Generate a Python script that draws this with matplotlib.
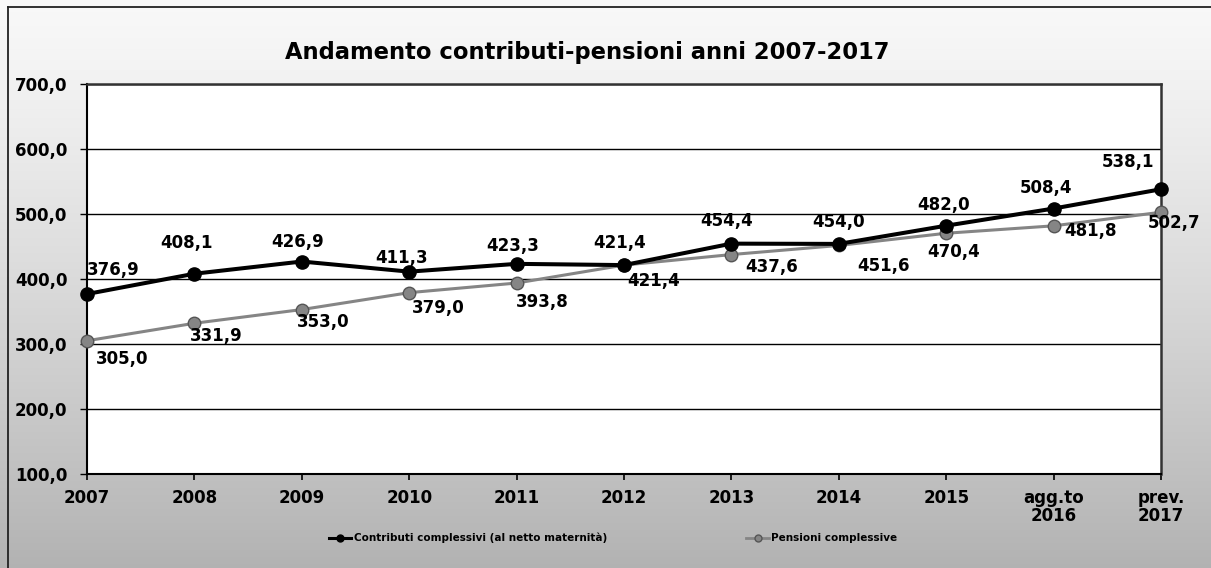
import numpy as np
import matplotlib
matplotlib.use("Agg")
import matplotlib.pyplot as plt
from matplotlib.lines import Line2D

# ---- data ----
categories = ["2007", "2008", "2009", "2010", "2011", "2012", "2013", "2014",
              "2015", "agg.to\n2016", "prev.\n2017"]
contributi = [376.9, 408.1, 426.9, 411.3, 423.3, 421.4, 454.4, 454.0, 482.0, 508.4, 538.1]
pensioni = [305.0, 331.9, 353.0, 379.0, 393.8, 421.4, 437.6, 451.6, 470.4, 481.8, 502.7]
yticks = [100, 200, 300, 400, 500, 600, 700]

series_names = ["Contributi complessivi (al netto maternità)", "Pensioni complessive"]
title = "Andamento contributi-pensioni anni 2007-2017"

# label offsets in pixels (dx, dy) relative to each point
contrib_offsets = [(26, 24), (-8, 31), (-4, 20), (-8, 14), (-4, 18), (-4, 22),
                   (-5, 23), (0, 22), (-3, 21), (-8, 21), (-33, 27)]
pens_offsets = [(35, -18), (22, -13), (21, -12), (29, -15), (26, -19), (30, -16),
                (40, -12), (45, -21), (7, -19), (37, -5), (13, -11)]

W, H = 1211, 568
fig = plt.figure(figsize=(W / 100, H / 100), dpi=100)

# vertical grey gradient for the chart area background
bg = fig.add_axes([0, 0, 1, 1])
grad = np.linspace(0, 1, 256).reshape(-1, 1)
top_c, bot_c = 0.975, 0.70
vals = top_c + (bot_c - top_c) * grad ** 1.2
bg.imshow(np.dstack([vals, vals, vals]), aspect="auto", extent=[0, 1, 0, 1],
          origin="upper")
bg.set_xlim(0, 1)
bg.set_ylim(0, 1)
bg.axis("off")
# outer chart frame (left and top edges)
bg.plot([8 / W, 8 / W], [0, 1 - 7 / H], color="#222222", lw=1.3)
bg.plot([8 / W, 1], [1 - 7 / H, 1 - 7 / H], color="#222222", lw=1.3)

# plot area
left, right = 87 / W, 1161 / W
bottom, top = 1 - 474 / H, 1 - 84 / H
ax = fig.add_axes([left, bottom, right - left, top - bottom])
ax.set_facecolor("white")

x = np.arange(len(categories))
ax.set_xlim(0, len(categories) - 1)
ax.set_ylim(100, 700)

ax.set_yticks(yticks)
ax.set_yticklabels([f"{v:.1f}".replace(".", ",") for v in yticks])
ax.set_xticks(x)
ax.set_xticklabels(categories, linespacing=0.95)
for lab in ax.get_xticklabels() + ax.get_yticklabels():
    lab.set_fontweight("bold")
    lab.set_fontsize(12)
ax.tick_params(axis="y", length=5, width=1, pad=9, direction="out")
ax.tick_params(axis="x", length=4, width=1.2, pad=7, direction="out")

ax.grid(axis="y", color="black", lw=1)
ax.set_axisbelow(True)
for s in ["left", "bottom"]:
    ax.spines[s].set_color("black")
    ax.spines[s].set_linewidth(1.5)
for s in ["top", "right"]:
    ax.spines[s].set_color("#333333")
    ax.spines[s].set_linewidth(1.8)

contrib_color = "black"
pens_color = "#858585"

ax.plot(x, pensioni, color=pens_color, lw=2.2, marker="o", ms=9,
        mfc=pens_color, mec="#555555", mew=1, zorder=3, clip_on=False)
ax.plot(x, contributi, color=contrib_color, lw=2.9, marker="o", ms=9.5,
        mfc=contrib_color, mec=contrib_color, zorder=4, clip_on=False)

def fmt(v):
    return f"{v:.1f}".replace(".", ",")

for xi, v, (dx, dy) in zip(x, contributi, contrib_offsets):
    ax.annotate(fmt(v), (xi, v), xytext=(dx, dy), textcoords="offset pixels",
                ha="center", va="center", fontsize=12, fontweight="bold",
                color="black", zorder=6, annotation_clip=False)
for xi, v, (dx, dy) in zip(x, pensioni, pens_offsets):
    ax.annotate(fmt(v), (xi, v), xytext=(dx, dy), textcoords="offset pixels",
                ha="center", va="center", fontsize=12, fontweight="bold",
                color="black", zorder=6, annotation_clip=False)

fig.text(587 / W, 1 - 52 / H, title, ha="center", va="center",
         fontsize=16.3, fontweight="bold", color="black")

handles = [
    Line2D([], [], color=contrib_color, lw=2.2, marker="o", ms=5, mfc=contrib_color),
    Line2D([], [], color=pens_color, lw=2.0, marker="o", ms=5, mfc=pens_color,
           mec="#555555"),
]
leg = fig.legend(handles, series_names, loc="center", ncol=2,
                 bbox_to_anchor=(613 / W, 1 - 538 / H), frameon=False,
                 prop={"size": 7.5, "weight": "bold"}, handlelength=2.2,
                 handletextpad=0.2, columnspacing=13.4)

fig.savefig("out.png", dpi=100)
